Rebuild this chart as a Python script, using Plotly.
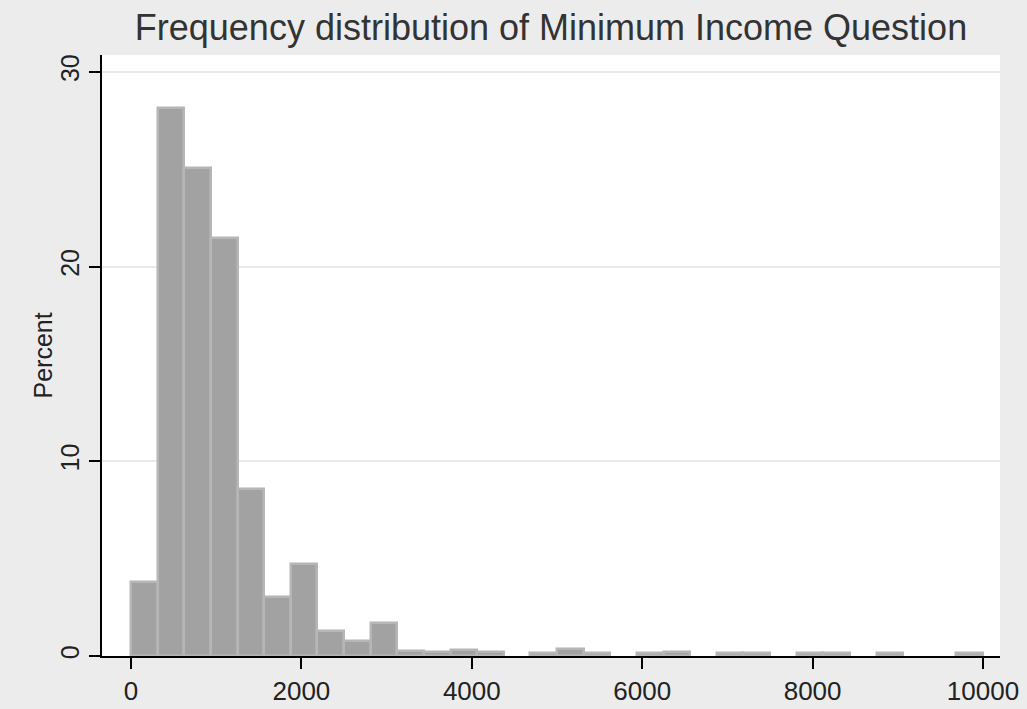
import plotly.graph_objects as go

# Histogram bins (lower edge of each bin, width 312.5) and percent of observations
bin_start = [0, 312.5, 625, 937.5, 1250, 1562.5, 1875, 2187.5, 2500, 2812.5,
             3125, 3437.5, 3750, 4062.5, 4375, 4687.5, 5000, 5312.5, 5625, 5937.5,
             6250, 6562.5, 6875, 7187.5, 7500, 7812.5, 8125, 8437.5, 8750, 9062.5,
             9375, 9687.5]
percent = [3.82, 28.16, 25.08, 21.45, 8.56, 3.05, 4.71, 1.29, 0.79, 1.68,
           0.27, 0.22, 0.31, 0.22, 0.0, 0.14, 0.34, 0.14, 0.0, 0.14,
           0.19, 0.0, 0.14, 0.14, 0.0, 0.14, 0.14, 0.0, 0.14, 0.0,
           0.0, 0.14]
bin_width = 312.5

x_ticks = [0, 2000, 4000, 6000, 8000, 10000]
y_ticks = [0, 10, 20, 30]

centers = [b + bin_width / 2 for b in bin_start]
xs = [c for c, p in zip(centers, percent) if p > 0]
ys = [p for p in percent if p > 0]

fig = go.Figure()
fig.add_trace(go.Bar(
    x=xs, y=ys, width=bin_width,
    marker=dict(color="#a2a2a2", line=dict(color="#b6b6b6", width=2.5)),
    hoverinfo="x+y",
))

font_family = "Liberation Sans, Arial, sans-serif"
fig.update_layout(
    width=1027, height=709,
    paper_bgcolor="#ececec", plot_bgcolor="#ffffff",
    margin=dict(l=102, r=27, t=55, b=53),
    bargap=0,
    showlegend=False,
    title=dict(text="Frequency distribution of Minimum Income Question",
               x=0.5365, xanchor="center", y=0.961, yanchor="middle",
               font=dict(family=font_family, size=36, color="#333333")),
    font=dict(family=font_family, color="#222222"),
)
fig.add_annotation(
    text="Percent", textangle=-90, xref="paper", yref="paper",
    x=-0.0668, y=0.5, xanchor="center", yanchor="middle", showarrow=False,
    font=dict(size=25, family=font_family, color="#222222"),
)
fig.update_xaxes(
    range=[-340.4, 10199.5], tickvals=x_ticks,
    ticktext=[str(v) for v in x_ticks],
    showgrid=False, zeroline=False, automargin=False,
    showline=True, linecolor="#000000", linewidth=1.5,
    ticks="outside", ticklen=11, tickwidth=1.5, tickcolor="#000000",
    tickfont=dict(size=26, family=font_family, color="#222222"),
)
fig.update_yaxes(
    range=[0, 30.87], tickvals=y_ticks,
    ticktext=[str(v) for v in y_ticks],
    showgrid=True, gridcolor="#eaeaea", gridwidth=2,
    zeroline=False, automargin=False,
    showline=True, linecolor="#000000", linewidth=1.5,
    ticks="outside", ticklen=11, tickwidth=1.5, tickcolor="#000000",
    tickangle=-90,
    tickfont=dict(size=25, family=font_family, color="#222222"),
)

fig.write_html("out.html",
               config={"displayModeBar": False},
               post_script="document.body.style.margin='0';document.body.style.background='#ececec';")
